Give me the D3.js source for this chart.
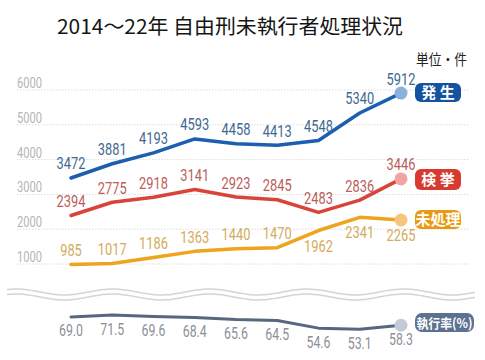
<!DOCTYPE html>
<html><head><meta charset="utf-8">
<script src="https://cdn.jsdelivr.net/npm/d3@7"></script>
<style>body{margin:0;background:#fff}svg{display:block}</style>
</head><body>
<svg id="c" width="485" height="360"></svg>
<script>
const years = [2014,2015,2016,2017,2018,2019,2020,2021,2022];
const occurred = [3472,3881,4193,4593,4458,4413,4548,5340,5912];
const arrested = [2394,2775,2918,3141,2923,2845,2483,2836,3446];
const unprocessed = [985,1017,1186,1363,1440,1470,1962,2341,2265];
const execRate = [69.0,71.5,69.6,68.4,65.6,64.5,54.6,53.1,58.3];
const rateLabels = ["69.0","71.5","69.6","68.4","65.6","64.5","54.6","53.1","58.3"];
const yTicks = [1000,2000,3000,4000,5000,6000];
const seriesNames = ["発 生","検 挙","未処理"];
const rateName = "執行率(%)";
const title = "2014～22年 自由刑未執行者処理状況";
const unitText = "単位・件";

const svg = d3.select("#c");
const numFont = "Roboto,sans-serif";
const cjk = "'Noto Sans CJK JP',sans-serif";

const x = d3.scalePoint().domain(years).range([71, 401]);
const y = d3.scaleLinear().domain([1000, 6000]).range([264, 90]);
const yr = d3.scaleLinear().domain([50, 75]).range([331.7, 312.3]);

// title
svg.append("text").attr("x", 57).attr("y", 34).attr("font-family", cjk)
  .attr("font-size", 20).attr("fill", "#151515")
  .attr("textLength", 346).attr("lengthAdjust", "spacingAndGlyphs").text(title);
svg.append("text").attr("x", 416).attr("y", 65).attr("font-family", cjk).attr("font-size", 14.5)
  .attr("fill", "#222").attr("textLength", 51).attr("lengthAdjust", "spacingAndGlyphs").text(unitText);

// grid
const grid = svg.append("g");
yTicks.forEach(t => {
  grid.append("line").attr("x1", 17).attr("x2", 470).attr("y1", y(t)).attr("y2", y(t))
    .attr("stroke", "#dcdcdc").attr("stroke-width", 1).attr("stroke-dasharray", "1.5,1.5");
  grid.append("text").attr("x", 17).attr("y", y(t) - 2).attr("font-family", numFont)
    .attr("font-size", 14).attr("fill", "#b5b5b5")
    .attr("textLength", 25).attr("lengthAdjust", "spacingAndGlyphs").text(t);
});

const series = [
  {vals: occurred, line: "#1b5fae", lab: "#3e6892", dot: "#8cb0dc", badge: "#1553a0", by: [83, 102], below: []},
  {vals: arrested, line: "#d9443a", lab: "#bb5d5b", dot: "#f2a4a4", badge: "#d73a2e", by: [169, 190], below: []},
  {vals: unprocessed, line: "#efa41e", lab: "#d3ab5c", dot: "#f6c77a", badge: "#e89b12", by: [210, 229], below: [6,7,8]}
];

const line = d3.line().x((d,i) => x(years[i])).y(d => y(d));
series.forEach((s, k) => {
  svg.append("path").attr("d", line(s.vals)).attr("fill", "none").attr("stroke", s.line)
    .attr("stroke-width", 3.5).attr("stroke-linejoin", "round").attr("stroke-linecap", "round");
  const last = s.vals.length - 1;
  svg.append("circle").attr("cx", x(years[last])).attr("cy", y(s.vals[last])).attr("r", 6.5)
    .attr("fill", s.dot);
  s.vals.forEach((v, i) => {
    const below = s.below.includes(i);
    const txt = String(v);
    svg.append("text").attr("x", x(years[i])).attr("y", below ? y(v) + 21 : y(v) - 8.5)
      .attr("text-anchor", "middle").attr("font-family", numFont).attr("font-size", 17)
      .attr("fill", s.lab).attr("textLength", txt.length * 7.2)
      .attr("lengthAdjust", "spacingAndGlyphs").text(txt);
  });
  svg.append("rect").attr("x", 415).attr("y", s.by[0]).attr("width", 46).attr("height", s.by[1] - s.by[0])
    .attr("rx", 6).attr("fill", s.badge);
  svg.append("text").attr("x", 438).attr("y", (s.by[0] + s.by[1]) / 2 + 5.5).attr("text-anchor", "middle")
    .attr("font-family", cjk).attr("font-weight", "bold").attr("font-size", 15).attr("fill", "#fff")
    .text(seriesNames[k]);
});

// wavy break lines
const wave = d3.line().curve(d3.curveBasis);
[292, 297].forEach(yy => {
  const pts = d3.range(7, 479, 4).map(px => [px, yy + 3 * Math.sin((px - 40) / 97 * 2 * Math.PI)]);
  svg.append("path").attr("d", wave(pts)).attr("fill", "none").attr("stroke", "#d4d4d4").attr("stroke-width", 1.5);
});

// rate panel
const rline = d3.line().x((d,i) => x(years[i])).y(d => yr(d));
svg.append("path").attr("d", rline(execRate)).attr("fill", "none").attr("stroke", "#56677f")
  .attr("stroke-width", 3).attr("stroke-linejoin", "round").attr("stroke-linecap", "round");
svg.append("circle").attr("cx", x(years[8])).attr("cy", yr(execRate[8])).attr("r", 6.5).attr("fill", "#c3cad8");
execRate.forEach((v, i) => {
  svg.append("text").attr("x", x(years[i])).attr("y", yr(v) + 19.5).attr("text-anchor", "middle")
    .attr("font-family", numFont).attr("font-size", 17).attr("fill", "#8b9097")
    .attr("textLength", 24).attr("lengthAdjust", "spacingAndGlyphs").text(rateLabels[i]);
});
svg.append("rect").attr("x", 415).attr("y", 313).attr("width", 59).attr("height", 19).attr("rx", 7).attr("fill", "#5d7191");
svg.append("text").attr("x", 444.5).attr("y", 327.5).attr("text-anchor", "middle")
  .attr("font-family", cjk).attr("font-weight", "bold").attr("font-size", 13).attr("fill", "#fff")
  .attr("textLength", 56).attr("lengthAdjust", "spacingAndGlyphs").text(rateName);
</script>
</body></html>
